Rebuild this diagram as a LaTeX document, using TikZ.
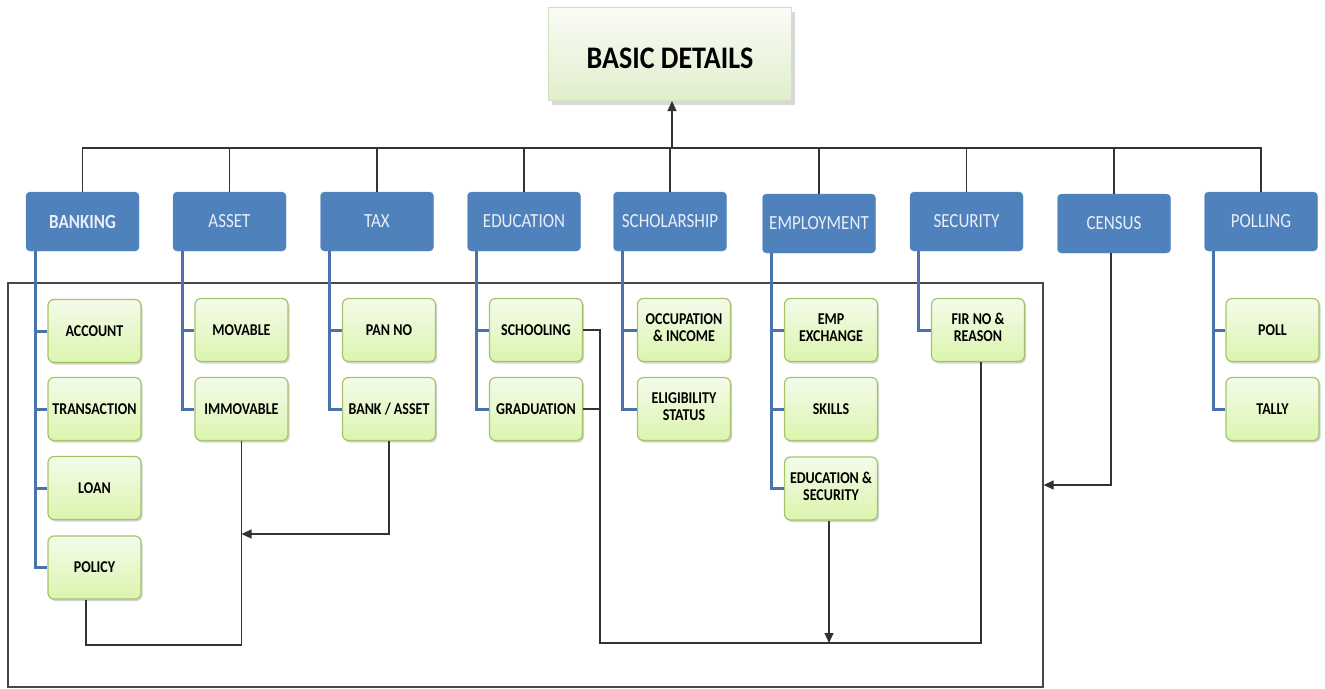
\documentclass[tikz,border=0pt]{standalone}
\usepackage{fontspec}
\usepackage{graphicx}
\setmainfont{Carlito}
\usetikzlibrary{arrows.meta,shadows,calc}
\definecolor{topblue}{HTML}{4F81BD}
\definecolor{treeblue}{HTML}{4A72AC}
\definecolor{toptext}{HTML}{E9EFF8}
\definecolor{greenedge}{HTML}{A5C46A}
\definecolor{greentop}{HTML}{F4FBEA}
\definecolor{greenbot}{HTML}{DBF5AE}
\definecolor{basictop}{HTML}{FAFCF5}
\definecolor{basicbot}{HTML}{E1EECD}
\definecolor{basicedge}{HTML}{D3E0BC}
\definecolor{linegray}{HTML}{333333}
\newcommand{\vst}[1]{\scalebox{1}[1.18]{#1}}
\newcommand{\two}[2]{\vst{\begin{tabular}{@{}c@{}}#1\\#2\end{tabular}}}
\begin{document}
\begin{tikzpicture}[x=1pt,y=-1pt,
  catbox/.style={rectangle, rounded corners=4pt, fill=topblue, draw=topblue!90!white,
    minimum width=113pt, minimum height=59pt, inner sep=0pt, text=toptext,
    font=\fontsize{17}{20}\selectfont},
  leafbox/.style={rectangle, rounded corners=6pt, draw=greenedge, line width=1.2pt,
    top color=greentop, bottom color=greenbot,
    drop shadow={shadow xshift=1.5pt, shadow yshift=-2pt, opacity=.35},
    minimum width=93pt, minimum height=63pt, inner sep=0pt, align=center,
    font=\bfseries\fontsize{14}{14.4}\selectfont},
  rootbox/.style={rectangle, draw=basicedge, line width=1pt,
    top color=basictop, bottom color=basicbot,
    drop shadow={shadow xshift=3pt, shadow yshift=-4pt, opacity=.3},
    minimum width=243pt, minimum height=93pt, inner sep=0pt,
    text height=30pt, text depth=1pt,
    font=\bfseries\fontsize{28}{32}\selectfont},
  tree/.style={draw=treeblue, line width=3pt},
  conn/.style={draw=linegray, line width=1.2pt},
  tip/.style={-{Triangle[length=10pt,width=9pt]}}
]
\useasboundingbox (0,0) rectangle (1325,688);

% frame
\node[draw=linegray!90, line width=1.2pt, minimum width=1035pt, minimum height=404pt, inner sep=0pt] (frame) at (525.5,485) {};

% root
\node[rootbox] (basic) at (670,54) {\scalebox{1}[1.12]{BASIC DETAILS}};

% category boxes
\node[catbox, font=\bfseries\fontsize{17}{20}\selectfont] (bank) at (82.5,221.5) {\vst{BANKING}};
\node[catbox] (asset) at (229.5,221.5) {\vst{ASSET}};
\node[catbox] (tax) at (377,221.5) {\vst{TAX}};
\node[catbox] (edu) at (524,221.5) {\vst{EDUCATION}};
\node[catbox] (schol) at (670,221.5) {\vst{SCHOLARSHIP}};
\node[catbox] (emp) at (819,223.5) {\vst{EMPLOYMENT}};
\node[catbox] (sec) at (966.5,221.5) {\vst{SECURITY}};
\node[catbox] (census) at (1114,223.5) {\vst{CENSUS}};
\node[catbox] (poll) at (1261,221.5) {\vst{POLLING}};

% bus
\coordinate (bus) at (672,148);
\draw[conn] (bank.north) -- (bank.north |- bus) -- (poll.north |- bus) -- (poll.north);
\foreach \n in {asset,tax,edu,schol,emp,sec,census}
  \draw[conn] (\n.north) -- (\n.north |- bus);
\draw[conn,tip] (bus) -- (bus |- basic.south);

% leaves
\node[leafbox] (account) at (94.5,331) {\vst{ACCOUNT}};
\node[leafbox] (transaction) at (94.5,409) {\vst{TRANSACTION}};
\node[leafbox] (loan) at (94.5,488) {\vst{LOAN}};
\node[leafbox] (policy) at (94.5,567.5) {\vst{POLICY}};
\node[leafbox] (movable) at (241.5,330) {\vst{MOVABLE}};
\node[leafbox] (immovable) at (241.5,409) {\vst{IMMOVABLE}};
\node[leafbox] (pan) at (389,330) {\vst{PAN NO}};
\node[leafbox] (bankasset) at (389,409) {\vst{BANK / ASSET}};
\node[leafbox] (schooling) at (536,330) {\vst{SCHOOLING}};
\node[leafbox] (graduation) at (536,409) {\vst{GRADUATION}};
\node[leafbox] (occupation) at (684,330) {\two{OCCUPATION}{\& INCOME}};
\node[leafbox] (eligibility) at (684,409) {\two{ELIGIBILITY}{STATUS}};
\node[leafbox] (empex) at (831,330) {\two{EMP}{EXCHANGE}};
\node[leafbox] (skills) at (831,409) {\vst{SKILLS}};
\node[leafbox] (edusec) at (831,488.5) {\two{EDUCATION \&}{SECURITY}};
\node[leafbox] (fir) at (978,330) {\two{FIR NO \&}{REASON}};
\node[leafbox] (pollc) at (1272.5,330) {\vst{POLL}};
\node[leafbox] (tally) at (1272.5,409) {\vst{TALLY}};

% tree lines
\newcommand{\treeline}[3]{%
  \coordinate (#1L) at ([xshift=9.5pt]#1.south west);
  \draw[tree] (#1L) |- (#2.west);
  \foreach \c in {#3} \draw[tree] (\c.west) -- (\c.west -| #1L);}
\treeline{bank}{policy}{account,transaction,loan}
\treeline{asset}{immovable}{movable}
\treeline{tax}{bankasset}{pan}
\treeline{edu}{graduation}{schooling}
\treeline{schol}{eligibility}{occupation}
\treeline{emp}{edusec}{empex,skills}
\draw[tree] ([xshift=9pt]sec.south west) |- (fir.west);
\treeline{poll}{tally}{pollc}

% black connectors
\coordinate (j1) at (241.5,534);
\draw[conn] ([xshift=-8.5pt]policy.south) |- (j1 |- 0,645) -| (immovable.south);
\draw[conn,tip] (bankasset.south) |- (j1);

\coordinate (eduR) at (600,643);
\draw[conn] (schooling.east) -| (eduR) -| ([xshift=3pt]fir.south);
\draw[conn] (graduation.east) -- (graduation.east -| eduR);
\draw[conn,tip] ([xshift=-2pt]edusec.south) -- ([xshift=-2pt]edusec.south |- eduR);

\draw[conn,tip] ([xshift=-3pt]census.south) |- (frame.east);
\end{tikzpicture}
\end{document}
